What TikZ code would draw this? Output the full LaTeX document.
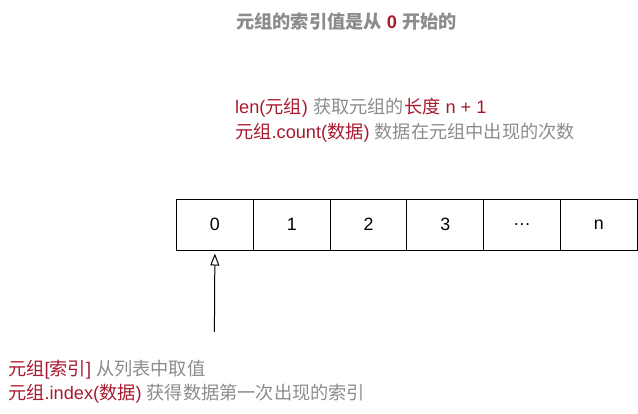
\documentclass[tikz,border=0pt]{standalone}
\usepackage{fontspec}
\setmainfont{Liberation Sans}
\newfontfamily\cjk{Noto Sans CJK SC}
\usetikzlibrary{arrows.meta}
\definecolor{tipred}{HTML}{A8192E}
\definecolor{notegray}{HTML}{8C8C8C}
\newcommand{\zh}[1]{{\cjk #1}}

\begin{document}
\begin{tikzpicture}[x=1pt,y=-1pt,
    every node/.append style={font=\fontsize{18.2}{20}\selectfont},
    cell/.style={draw,line width=1pt,minimum width=76.8pt,minimum height=50.5pt,inner sep=0pt,anchor=north west},
    note/.style={anchor=base west,inner sep=0pt,text=notegray}]
  \useasboundingbox (0,0) rectangle (638,413);
  % the cells of the tuple
  \foreach \lbl [count=\i from 0] in {0,1,2,3,…,n}
    \node[cell,font=\fontsize{17.8}{20}\selectfont] (c\i) at (176+76.8*\i,199) {\lbl};

  % notes above the tuple
  \node[note,font=\bfseries\fontsize{18.2}{20}\selectfont] (title) at (236,28.3)
    {\zh{元组的索引值是从} \textcolor{tipred}{0} \zh{开始的}};
  \node[note] (lenline) at (235,113.8)
    {\textcolor{tipred}{len(\zh{元组})} \zh{获取元组的}\textcolor{tipred}{\zh{长度} n + 1}};
  \node[note] (countline) at (235,138.6)
    {\textcolor{tipred}{\zh{元组}.count(\zh{数据})} \zh{数据在元组中出现的次数}};

  % notes below the tuple
  \node[note] (getline) at (8,375.5)
    {\textcolor{tipred}{\zh{元组}[\zh{索引}]} \zh{从列表中取值}};
  \node[note] (indexline) at (8,399.4)
    {\textcolor{tipred}{\zh{元组}.index(\zh{数据})} \zh{获得数据第一次出现的索引}};

  % pointer to the first cell
  \coordinate (tail) at (214.4,332);
  \draw[-{Triangle[open,width=9pt,length=12pt]},line width=1pt,shorten >=3pt] (tail) -- (c0.south);
\end{tikzpicture}
\end{document}
